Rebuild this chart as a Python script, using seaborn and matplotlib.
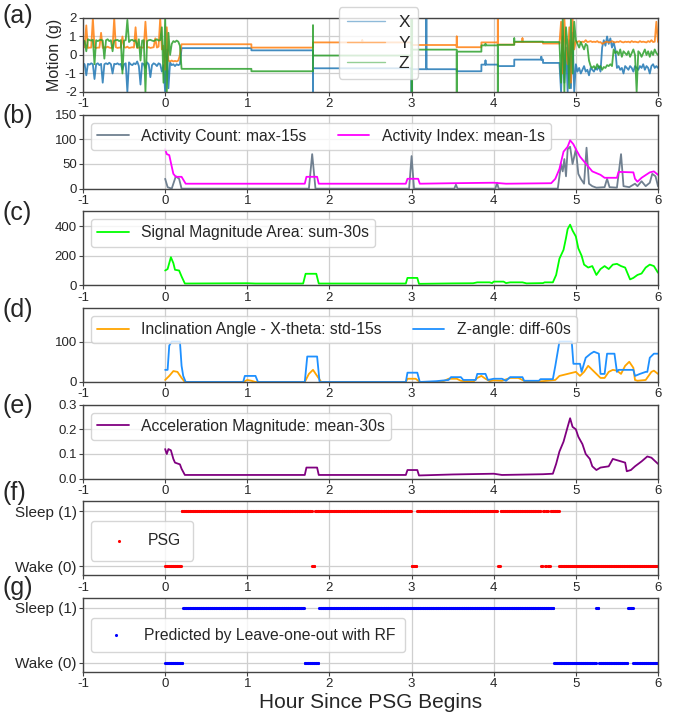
import numpy as np
import pandas as pd
import matplotlib
matplotlib.use("Agg")
import matplotlib.pyplot as plt
import seaborn as sns

# ---------------- data ----------------
HOUR_TICKS = [-1, 0, 1, 2, 3, 4, 5, 6]

# panel (a): raw motion, noisy start (-1..0.2 h), flat segments, noisy end (4.8..6 h)
LVL_T = [0.2, 1.05, 1.8, 3.0, 3.55, 3.85, 4.05, 4.25, 4.6, 4.8]
X_lvl = [0.37, 0.25, -0.72, -0.77, -0.88, -0.52, -0.60, -0.25, -0.43]
Y_lvl = [0.58, 0.40, 0.68, 0.54, 0.42, 0.68, 0.56, 0.70, 0.62]
Z_lvl = [-0.75, -0.88, -0.03, 0.29, 0.18, 0.52, 0.55, 0.72, 0.70]

X_spk_t = [1.8, 3.0, 3.18, 3.9, 4.58]
X_spk_v = [-2.0, -2.0, 2.0, -0.3, -0.1]
Y_spk_t = [2.4, 3.55, 4.05, 4.35]
Y_spk_v = [0.8, 1.0, 2.0, 0.9]
Z_spk_t = [1.8, 3.0, 3.002, 3.55, 3.9, 4.05, 4.25]
Z_spk_v = [1.6, 2.0, -2.0, -2.0, 0.6, -2.0, 0.9]

X_left = [-0.45, -0.5, -1.1, -0.48, -0.52, -0.45, -0.5, -1.3, -0.5, -0.45,
          -0.55, -0.48, -1.5, -0.5, -0.45, -0.5, -0.42, -0.5, -1.0, -0.48,
          -0.5, -0.45, -0.52, -0.48, -0.8, -0.5, -0.45, -2.0, -0.4, -0.5,
          -0.55, -0.45, -0.5, -0.35, -0.6, -1.6, -0.45, -0.5, -0.7, -0.4,
          -0.5, -1.2, -0.55, -0.45, -0.5, -0.6, -0.45, -0.5, -0.9, -0.55,
          -2.0, 0.3, -1.8, -0.4, -0.55, -0.5, -0.6, -0.5, -0.55, -0.5, 0.37]
Y_left = [0.4, 0.42, 1.6, 0.38, 0.4, 0.4, 2.0, 0.42, 0.38, 0.4,
          0.4, 1.2, 0.38, 0.42, 0.4, 0.45, 0.4, 0.38, 0.4, 2.0,
          0.42, 0.38, 0.4, 0.4, 1.0, 0.42, 0.4, 0.45, 0.38, 0.4,
          0.42, 0.4, 1.5, 0.38, 0.4, 0.42, 0.4, 0.4, 1.8, 0.4,
          0.42, 0.38, 0.4, 0.42, 0.9, 0.4, 0.45, 2.0, 0.3, 0.5,
          -0.8, 1.5, -0.3, -0.35, -0.3, -0.35, -0.32, -0.35, -0.3, 0.0, 0.58]
Z_left = [0.8, 0.75, 0.2, 0.85, 0.8, 0.78, 0.82, -0.5, 0.8, 0.75,
          0.8, 0.82, 0.78, -0.2, 0.8, 0.85, 0.75, 0.8, 0.2, 0.78,
          0.8, 0.82, 0.75, 0.8, -1.0, 0.78, 0.8, 1.9, 0.7, 0.8,
          0.82, 0.75, 0.8, 0.4, 0.85, -0.3, 0.78, 0.8, -2.0, 0.75,
          0.8, 0.82, 0.78, 0.75, 0.8, 0.85, 0.78, 0.8, 1.5, -1.5,
          2.0, -2.0, 1.2, 0.0, 0.6, 0.75, 0.7, 0.78, 0.72, 0.5, -0.75]

X_right = [-0.43, -2.0, 1.0, -1.5, 0.4, -2.0, 0.8, -1.8, 1.2, -2.0, -0.5,
           -0.9, -0.7, -1.0, -0.8, -0.6, -0.9, -0.8, -1.1, -0.7, -0.8,
           -0.9, -0.7, -0.8, -0.6, -0.9, 0.4, 0.8, 0.5, 1.0, 0.6,
           0.9, 0.4, 0.7, 0.3, -0.7, -0.6, -0.8, -0.7, -1.0, -0.6,
           -0.7, -0.8, -0.6, -0.7, -0.9, -0.6, -0.7, -0.8, -0.6, -0.7,
           -0.5, -0.8, -0.6, -0.7, -1.0, -0.6, -0.5, -0.7, -0.6, -0.7]
Y_right = [0.62, 1.8, -1.0, 2.0, 0.2, -0.5, 1.5, -1.5, 2.0, 0.3, 0.75,
           0.7, 0.75, 0.68, 0.72, 0.7, 0.8, 0.7, 0.72, 0.75, 0.7,
           0.72, 0.7, 0.75, 0.68, 0.7, 0.6, 0.65, 0.7, 0.72, 0.68,
           0.7, 0.75, 0.7, 0.68, 0.72, 0.7, 0.75, 0.7, 0.68, 0.72,
           0.7, 0.72, 0.68, 0.75, 0.7, 0.72, 0.7, 0.68, 0.75, 0.7,
           0.72, 0.7, 0.68, 0.75, 0.7, 0.8, 0.7, 0.72, 1.8, 0.7]
Z_right = [0.70, -1.5, 2.0, -2.0, 1.5, 0.5, -1.8, 2.0, -1.0, 1.8, 0.8,
           0.6, 0.4, 0.7, 0.5, 0.3, 0.6, 0.5, -0.3, -0.6, -0.7,
           -0.6, -0.75, -0.5, -0.7, -0.6, -0.8, -0.65, -0.7, -0.55, -0.6,
           -0.5, -0.6, 0.3, 0.1, 0.2, 0.0, 0.3, -0.1, 0.2, 0.1,
           0.0, 0.2, -0.1, 0.1, 0.3, 0.0, -2.0, 0.2, 0.1, -0.1,
           0.1, 0.3, 0.0, 0.2, -0.1, 0.2, 0.0, 0.3, 0.1, 0.0]

# panel (b)
AI_t = [0, 0.02, 0.05, 0.08, 0.1, 0.13, 0.2, 0.25, 1.7, 1.72, 1.85, 1.87, 2.93, 2.95, 3.08, 3.1,
        3.5, 4.0, 4.15, 4.7, 4.75, 4.8, 4.85, 4.9, 4.93, 4.97, 5.0, 5.05, 5.1, 5.15, 5.2, 5.3,
        5.35, 5.5, 5.52, 5.7, 5.72, 5.75, 5.8, 5.9, 5.95, 6.0]
AI_v = [80, 70, 68, 45, 30, 24, 24, 10, 10, 24, 24, 10, 10, 20, 20, 10,
        11, 12, 10, 11, 20, 40, 75, 85, 98, 90, 80, 65, 55, 45, 35, 28,
        22, 22, 34, 33, 20, 14, 22, 33, 35, 28]
AC_t = [0, 0.03, 0.08, 0.13, 0.17, 0.2, 1.75, 1.79, 1.83, 2.97, 3.0, 3.03, 3.52, 3.54, 3.56,
        4.02, 4.04, 4.06, 4.78, 4.82, 4.84, 4.86, 4.88, 4.9, 4.93, 4.96, 5.0, 5.03, 5.06, 5.1,
        5.13, 5.16, 5.2, 5.25, 5.35, 5.38, 5.41, 5.5, 5.55, 5.58, 5.65, 5.72, 5.75, 5.8, 5.85,
        5.9, 5.93, 5.97, 6.0]
AC_v = [20, 3, 0, 25, 20, 0, 0, 70, 0, 0, 66, 0, 0, 8, 0,
        0, 12, 0, 0, 50, 35, 60, 25, 80, 85, 50, 80, 30, 20, 10,
        83, 10, 5, 2, 3, 20, 3, 2, 70, 5, 3, 10, 5, 15, 5,
        12, 30, 25, 5]

# panel (c)
SMA_t = [0, 0.03, 0.07, 0.1, 0.12, 0.17, 0.2, 0.24, 1.0, 1.1, 1.68, 1.71, 1.84, 1.87, 2.93, 2.95,
         3.07, 3.09, 3.5, 3.75, 3.8, 3.95, 3.98, 4.0, 4.12, 4.15, 4.2, 4.35, 4.4, 4.6, 4.62, 4.72,
         4.76, 4.8, 4.85, 4.88, 4.9, 4.93, 4.96, 5.0, 5.03, 5.07, 5.1, 5.15, 5.2, 5.25, 5.3, 5.35,
         5.4, 5.45, 5.5, 5.55, 5.6, 5.63, 5.66, 5.7, 5.75, 5.8, 5.85, 5.9, 5.95, 6.0]
SMA_v = [100, 110, 190, 150, 105, 100, 60, 12, 14, 12, 12, 78, 78, 12, 12, 50,
         50, 10, 13, 14, 20, 20, 15, 25, 25, 15, 20, 20, 13, 15, 20, 20,
         70, 180, 240, 320, 380, 410, 370, 330, 250, 200, 140, 120, 130, 70, 110, 130,
         110, 140, 145, 130, 120, 80, 40, 50, 70, 80, 120, 140, 130, 85]

# panel (d)
XT_t = [0, 0.05, 0.1, 0.15, 0.2, 0.24, 0.95, 1.0, 1.05, 1.1, 1.7, 1.75, 1.8, 1.85, 1.9, 2.93,
        2.95, 3.05, 3.1, 3.35, 3.4, 3.45, 3.55, 3.6, 3.75, 3.8, 3.85, 3.9, 3.95, 4.0, 4.1, 4.2,
        4.3, 4.4, 4.6, 4.75, 4.8, 4.9, 5.0, 5.05, 5.1, 5.15, 5.2, 5.25, 5.3, 5.35, 5.4, 5.45,
        5.5, 5.55, 5.6, 5.65, 5.7, 5.72, 5.75, 5.85, 5.92, 5.95, 6.0]
XT_v = [5, 15, 27, 25, 10, 0, 0, 5, 3, 0, 0, 20, 30, 15, 0, 0,
        8, 8, 0, 0, 3, 8, 8, 3, 0, 10, 15, 8, 2, 4, 3, 10,
        10, 0, 2, 5, 15, 20, 25, 15, 25, 40, 30, 20, 10, 10, 25, 30,
        28, 20, 40, 50, 35, 5, 3, 5, 25, 28, 20]
ZA_t = [0, 0.03, 0.05, 0.08, 0.18, 0.2, 0.22, 0.25, 0.95, 0.97, 1.1, 1.13, 1.7, 1.73, 1.85, 1.88,
        2.93, 2.95, 3.07, 3.1, 3.3, 3.45, 3.48, 3.6, 3.63, 3.78, 3.8, 3.9, 3.93, 4.0, 4.1, 4.15,
        4.2, 4.35, 4.37, 4.55, 4.57, 4.72, 4.75, 4.8, 4.95, 4.97, 5.05, 5.07, 5.12, 5.18, 5.22,
        5.28, 5.3, 5.35, 5.38, 5.47, 5.5, 5.52, 5.7, 5.72, 5.78, 5.85, 5.87, 5.9, 5.95, 6.0]
ZA_v = [30, 30, 90, 100, 100, 40, 15, 0, 0, 15, 15, 0, 0, 63, 63, 0,
        0, 23, 23, 0, 2, 5, 12, 12, 5, 5, 20, 20, 5, 8, 8, 3,
        12, 12, 3, 3, 7, 7, 40, 100, 100, 45, 45, 25, 60, 70, 75,
        70, 20, 20, 70, 70, 25, 30, 30, 15, 20, 25, 25, 60, 70, 70]

# panel (e)
AM_t = [0, 0.02, 0.04, 0.07, 0.1, 0.12, 0.18, 0.2, 0.24, 1.7, 1.72, 1.85, 1.87, 2.93, 2.95, 3.07,
        3.09, 3.5, 4.0, 4.1, 4.6, 4.72, 4.76, 4.8, 4.85, 4.9, 4.93, 4.96, 5.0, 5.03, 5.08, 5.12,
        5.17, 5.2, 5.25, 5.3, 5.4, 5.45, 5.55, 5.6, 5.62, 5.67, 5.72, 5.8, 5.87, 5.92, 6.0]
AM_v = [0.12, 0.10, 0.12, 0.115, 0.08, 0.065, 0.058, 0.04, 0.015, 0.015, 0.045, 0.045, 0.015,
        0.015, 0.035, 0.035, 0.013, 0.017, 0.02, 0.015, 0.018, 0.02, 0.06, 0.11, 0.15, 0.21,
        0.245, 0.21, 0.20, 0.17, 0.14, 0.10, 0.08, 0.05, 0.035, 0.045, 0.05, 0.08, 0.07, 0.065,
        0.03, 0.035, 0.05, 0.07, 0.09, 0.085, 0.06]

# panels (f), (g): 30-s epochs, run boundaries (hours) and state of each run
PSG_bounds = [0, 0.2, 1.79, 1.82, 3.0, 3.06, 4.05, 4.08, 4.57, 4.6, 4.62, 4.64, 4.66, 4.69, 4.8, 6.0]
PSG_state = [0, 1, 0, 1, 0, 1, 0, 1, 0, 1, 0, 1, 0, 1, 0]
PRED_bounds = [0, 0.21, 1.7, 1.87, 4.73, 5.25, 5.28, 5.63, 5.7, 6.0]
PRED_state = [0, 1, 0, 1, 0, 1, 0, 1, 0]
STATE_LABELS = ["Wake (0)", "Sleep (1)"]


# ---------------- helpers ----------------
def build_axis(left_v, lvl_v, spk_t, spk_v, right_v):
    ts, vs = list(np.linspace(-1, 0.2, len(left_v))), list(left_v)
    spikes = sorted(zip(spk_t, spk_v))
    for i, v in enumerate(lvl_v):
        t0, t1 = LVL_T[i], LVL_T[i + 1]
        ts.append(t0); vs.append(v)
        for t, s in spikes:
            if t0 <= t < t1:
                ts += [t, t, t]; vs += [v, s, v]
        ts.append(t1); vs.append(v)
    ts += list(np.linspace(4.8, 6.0, len(right_v))); vs += list(right_v)
    return pd.DataFrame({"t": ts, "v": vs})


def epochs(bounds, states):
    t = np.arange(0, 6, 1 / 120)
    idx = np.searchsorted(bounds, t, side="right") - 1
    idx = np.clip(idx, 0, len(states) - 1)
    return pd.DataFrame({"t": t, "s": np.array(states)[idx]})


# ---------------- figure ----------------
sns.set_style("whitegrid")
plt.rcParams["font.family"] = ["Liberation Sans", "DejaVu Sans"]
plt.rcParams["axes.unicode_minus"] = False
plt.rcParams["axes.edgecolor"] = "#444444"
plt.rcParams["axes.linewidth"] = 1.0
plt.rcParams["grid.color"] = "#cfcfcf"
plt.rcParams["grid.linewidth"] = 0.9

fig, axes = plt.subplots(7, 1, figsize=(6.77, 7.15), dpi=100)
fig.subplots_adjust(left=83 / 677, right=658 / 677, top=1 - 18 / 715, bottom=1 - 672 / 715,
                    hspace=0.307)

LEG = dict(fontsize=11.3, frameon=True, framealpha=0.8, edgecolor="#cccccc", fancybox=True)

# (a)
ax = axes[0]
for lv, lvl, st, sv, rv, col, lab in [
        (X_left, X_lvl, X_spk_t, X_spk_v, X_right, "#1f77b4", "X"),
        (Y_left, Y_lvl, Y_spk_t, Y_spk_v, Y_right, "#ff7f0e", "Y"),
        (Z_left, Z_lvl, Z_spk_t, Z_spk_v, Z_right, "#2ca02c", "Z")]:
    df = build_axis(lv, lvl, st, sv, rv)
    sns.lineplot(data=df, x="t", y="v", ax=ax, color=col, lw=1.3, alpha=0.85,
                 estimator=None, sort=False, label=lab)
ax.set_ylim(-2, 2)
ax.set_yticks([-2, -1, 0, 1, 2])
ax.set_ylabel("Motion (g)", fontsize=11.5, labelpad=2)
leg = ax.legend(loc="upper left", bbox_to_anchor=(0.43, 1.26), fontsize=12.5,
                frameon=True, framealpha=0.8, edgecolor="#cccccc", handlelength=2.2,
                labelspacing=0.3, borderpad=0.45)
for h in leg.get_lines():
    h.set_alpha(0.5)
    h.set_linewidth(1.0)
leg.set_zorder(10)

# (b)
ax = axes[1]
sns.lineplot(x=AC_t, y=AC_v, ax=ax, color="#708090", lw=1.3, estimator=None,
             label="Activity Count: max-15s")
sns.lineplot(x=AI_t, y=AI_v, ax=ax, color="magenta", lw=1.3, estimator=None,
             label="Activity Index: mean-1s")
ax.set_ylim(0, 150)
ax.set_yticks([0, 50, 100, 150])
ax.legend(loc="upper left", ncol=2, **LEG)

# (c)
ax = axes[2]
sns.lineplot(x=SMA_t, y=SMA_v, ax=ax, color="lime", lw=1.3, estimator=None,
             label="Signal Magnitude Area: sum-30s")
ax.set_ylim(0, 500)
ax.set_yticks([0, 200, 400])
ax.legend(loc="upper left", **LEG)

# (d)
ax = axes[3]
sns.lineplot(x=XT_t, y=XT_v, ax=ax, color="orange", lw=1.3, estimator=None,
             label="Inclination Angle - X-theta: std-15s")
sns.lineplot(x=ZA_t, y=ZA_v, ax=ax, color="dodgerblue", lw=1.3, estimator=None,
             label="Z-angle: diff-60s")
ax.set_ylim(0, 183)
ax.set_yticks([0, 100])
ax.legend(loc="upper left", ncol=2, **LEG)

# (e)
ax = axes[4]
sns.lineplot(x=AM_t, y=AM_v, ax=ax, color="purple", lw=1.3, estimator=None,
             label="Acceleration Magnitude: mean-30s")
ax.set_ylim(0, 0.3)
ax.set_yticks([0.0, 0.1, 0.2, 0.3])
ax.legend(loc="upper left", **LEG)

# (f)
ax = axes[5]
dfp = epochs(PSG_bounds, PSG_state)
sns.scatterplot(data=dfp, x="t", y="s", ax=ax, color="red", s=5, linewidth=0, label="PSG")
ax.set_ylim(-0.17, 1.18)
ax.set_yticks([0, 1])
ax.set_yticklabels(STATE_LABELS)
ax.legend(loc="center left", bbox_to_anchor=(0, 0.47), borderpad=0.8, **LEG)

# (g)
ax = axes[6]
dfg = epochs(PRED_bounds, PRED_state)
sns.scatterplot(data=dfg, x="t", y="s", ax=ax, color="blue", s=5, linewidth=0,
                label="Predicted by Leave-one-out with RF")
ax.set_ylim(-0.17, 1.18)
ax.set_yticks([0, 1])
ax.set_yticklabels(STATE_LABELS)
ax.legend(loc="center left", bbox_to_anchor=(0, 0.5), borderpad=0.6, **LEG)
ax.set_xlabel("Hour Since PSG Begins", fontsize=15, labelpad=2)

for i, ax in enumerate(axes):
    ax.set_xlim(-1, 6)
    ax.set_xticks(HOUR_TICKS)
    ax.set_xticklabels([str(h) for h in HOUR_TICKS])
    ax.tick_params(axis="both", labelsize=9.5, length=3, width=0.8, pad=1.5,
                   color="#444444", left=True, bottom=True)
    if i > 0:
        ax.set_ylabel("")
    if i < 6:
        ax.set_xlabel("")
    for sp in ax.spines.values():
        sp.set_color("#444444")
for ax in axes[5:]:
    ax.tick_params(axis="y", labelsize=11)

label_y = [16, 116, 213, 310, 406, 493, 588]
for lab, yy in zip("abcdefg", label_y):
    fig.text(3 / 677, 1 - yy / 715, f"({lab})", fontsize=18, va="center", ha="left")

fig.savefig("out.png", dpi=100)
